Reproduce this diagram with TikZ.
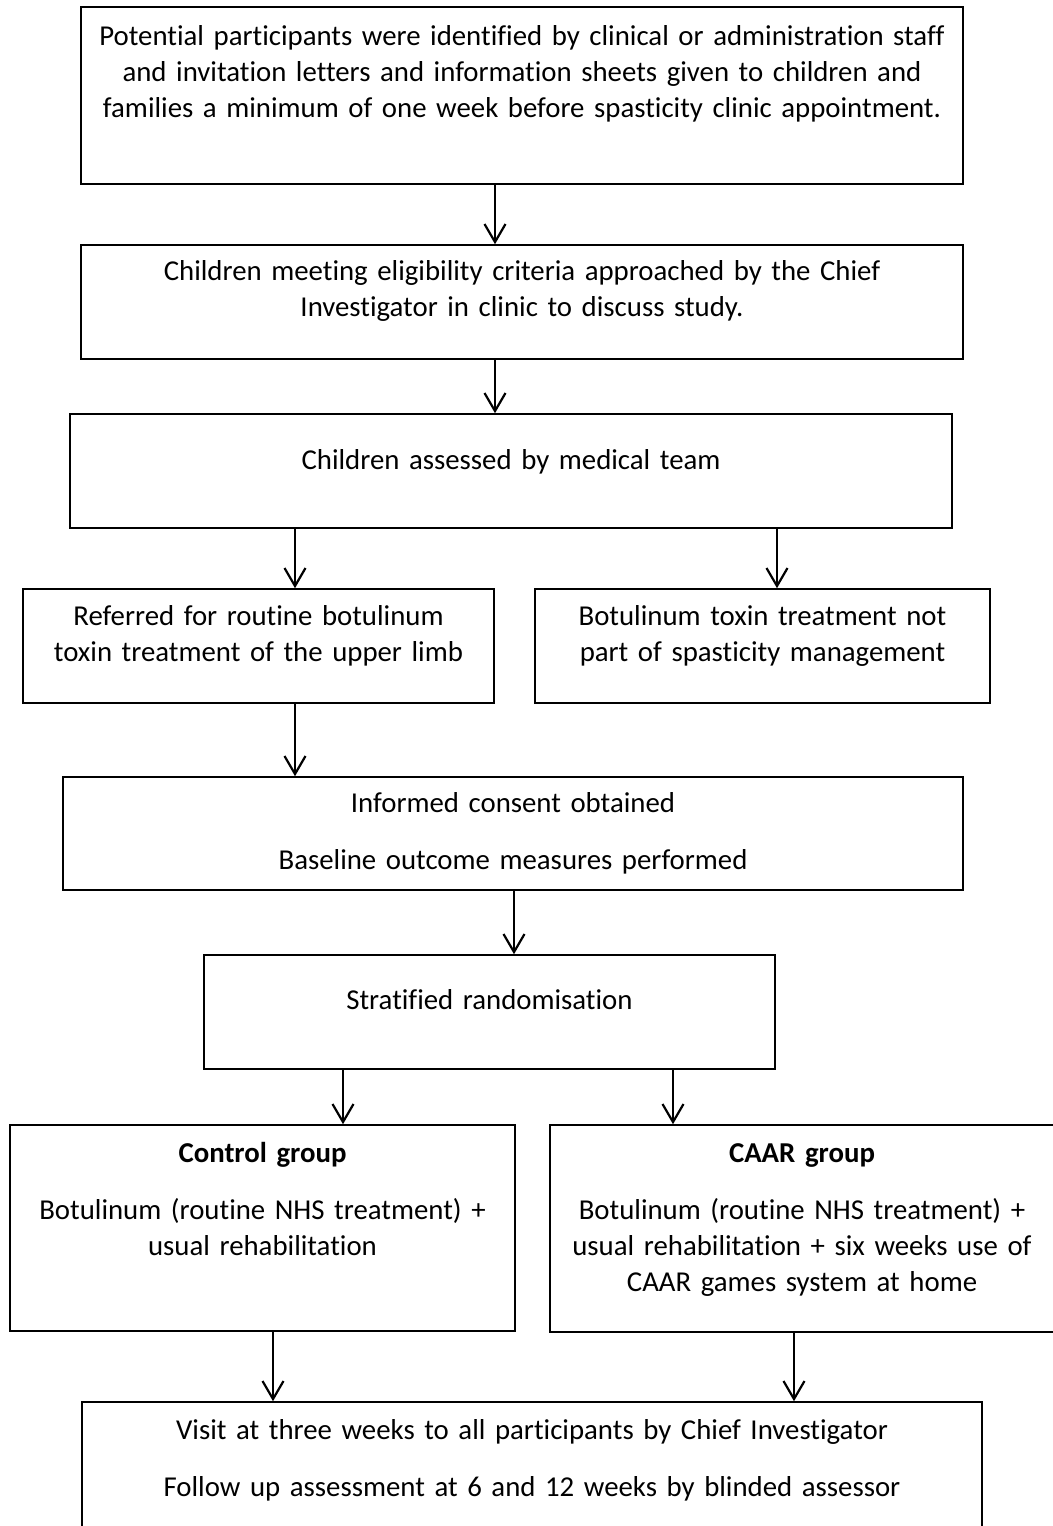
\documentclass[tikz,border=0pt]{standalone}
\usepackage{fontspec}
\setmainfont[Ligatures=CommonOff]{Carlito}
\usetikzlibrary{arrows.meta}
\begin{document}
\begin{tikzpicture}[x=0.5pt,y=-0.5pt,
  box/.style={draw=black,line width=0.8pt,rectangle,inner sep=0pt,fill=white},
  txt/.style={anchor=base,inner sep=0pt,align=center,
    font=\fontsize{14.4pt}{18pt}\selectfont},
  arr/.style={line width=1.1pt,-{Straight Barb[length=9pt,width=10.5pt,line width=1.1pt]}}]
\useasboundingbox (0,0) rectangle (1053,1526);

% boxes
\node[box,minimum width=441pt,minimum height=88.5pt] (b1) at (522,95.5) {};
\node[box,minimum width=441pt,minimum height=57pt] (b2) at (522,302) {};
\node[box,minimum width=441pt,minimum height=57pt] (b3) at (511,471) {};
\node[box,minimum width=235.5pt,minimum height=57pt] (b4) at (258.5,646) {};
\node[box,minimum width=227.5pt,minimum height=57pt] (b5) at (762.5,646) {};
\node[box,minimum width=450pt,minimum height=56.5pt] (b6) at (513,833.5) {};
\node[box,minimum width=285.5pt,minimum height=57pt] (b7) at (489.5,1012) {};
\node[box,minimum width=252.5pt,minimum height=103pt] (b8) at (262.5,1228) {};
\node[box,minimum width=252pt,minimum height=103.5pt] (b9) at (802,1228.5) {};
\node[box,minimum width=450pt,minimum height=79pt] (b10) at (532,1481) {};

% box texts
\node[txt,text width=440pt] (t1) at (522,45)
  {Potential participants were identified by clinical or administration staff\\
   and invitation letters and information sheets given to children and\\
   families a minimum of one week before spasticity clinic appointment.};
\node[txt,text width=440pt] (t2) at (522,280)
  {Children meeting eligibility criteria approached by the Chief\\
   Investigator in clinic to discuss study.};
\node[txt,text width=440pt] (t3) at (511,469)
  {Children assessed by medical team};
\node[txt,text width=234pt] (t4) at (258.5,625)
  {Referred for routine botulinum\\ toxin treatment of the upper limb};
\node[txt,text width=226pt] (t5) at (762.5,625)
  {Botulinum toxin treatment not\\ part of spasticity management};
\node[txt,text width=448pt] (t6) at (513,812)
  {Informed consent obtained\\[10.5pt] Baseline outcome measures performed};
\node[txt,text width=284pt] (t7) at (489.5,1009)
  {Stratified randomisation};
\node[txt,text width=251pt] (t8) at (262.5,1162)
  {\textbf{Control group}\\[10.5pt]
   Botulinum (routine NHS treatment) +\\ usual rehabilitation};
\node[txt,text width=251pt] (t9) at (802,1162)
  {\textbf{CAAR group}\\[10.5pt]
   Botulinum (routine NHS treatment) +\\ usual rehabilitation + six weeks use of\\
   CAAR games system at home};
\node[txt,text width=448pt] (t10) at (532,1439)
  {Visit at three weeks to all participants by Chief Investigator\\[10.5pt]
   Follow up assessment at 6 and 12 weeks by blinded assessor};

% connectors
\draw[arr] (b1.south -| 495,0) -- (b2.north -| 495,0);
\draw[arr] (b2.south -| 495,0) -- (b3.north -| 495,0);
\draw[arr] (b3.south -| 295,0) -- (b4.north -| 295,0);
\draw[arr] (b3.south -| 777,0) -- (b5.north -| 777,0);
\draw[arr] (b4.south -| 295,0) -- (b6.north -| 295,0);
\draw[arr] (b6.south -| 514,0) -- (b7.north -| 514,0);
\draw[arr] (b7.south -| 343,0) -- (b8.north -| 343,0);
\draw[arr] (b7.south -| 673,0) -- (b9.north -| 673,0);
\draw[arr] (b8.south -| 273,0) -- (b10.north -| 273,0);
\draw[arr] (b9.south -| 794,0) -- (b10.north -| 794,0);
\end{tikzpicture}
\end{document}
